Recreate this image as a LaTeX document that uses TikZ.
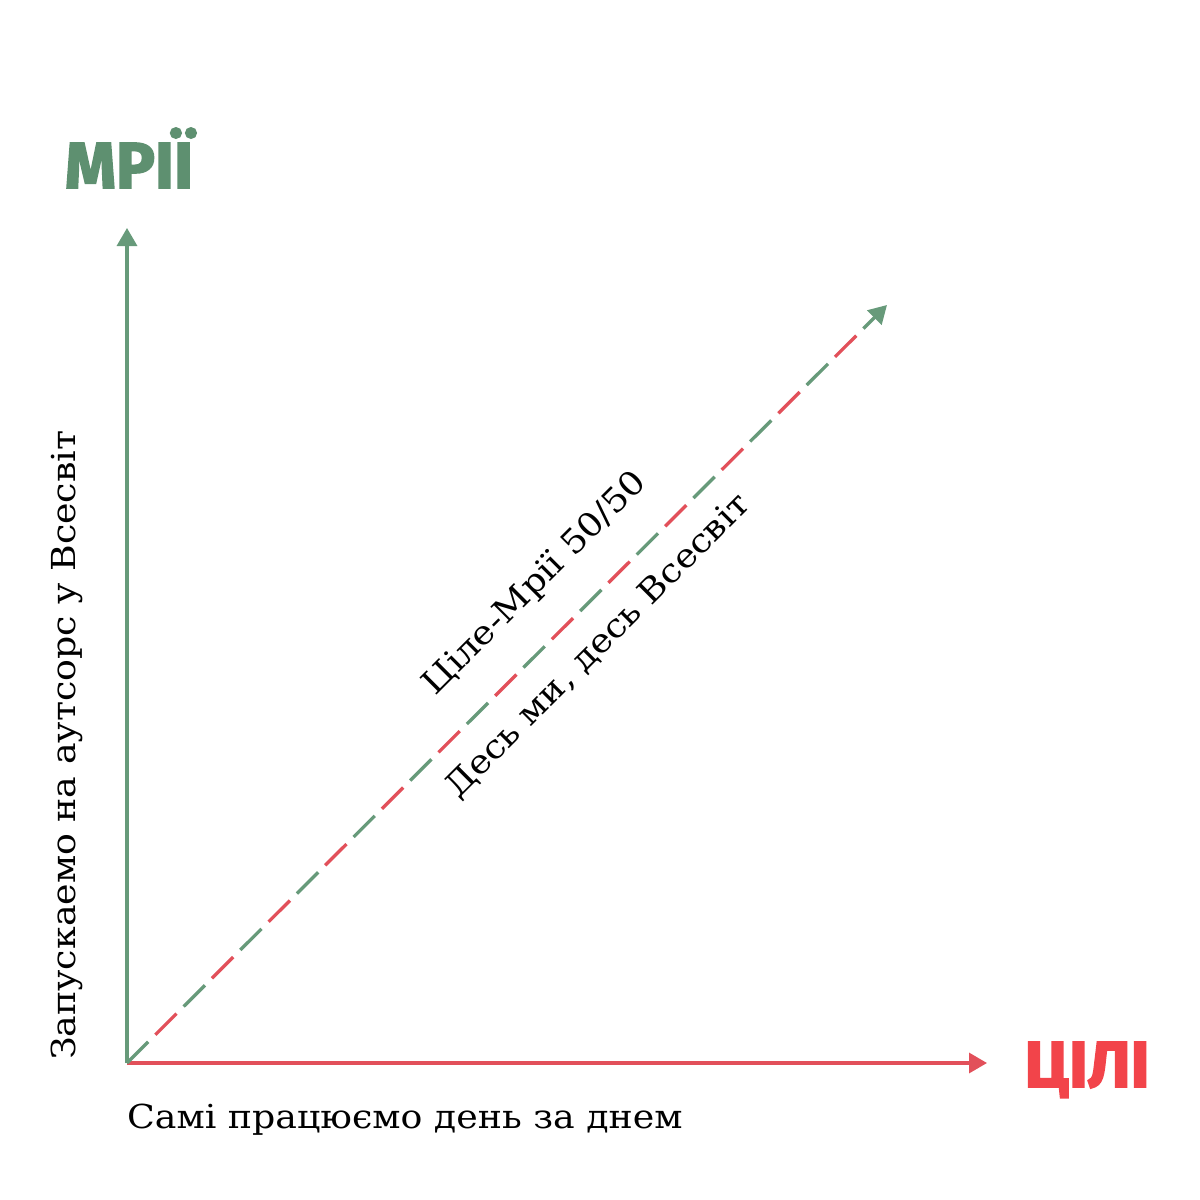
\documentclass[tikz,border=0pt]{standalone}
\usepackage{fontspec}
\setmainfont{DejaVu Serif}[FakeStretch=1.1]
\newfontfamily\heavy{Fira Sans}[BoldFeatures={FakeBold=2.5}]
\usetikzlibrary{arrows.meta,calc}
\definecolor{gtitle}{HTML}{5E9070}
\definecolor{rtitle}{HTML}{F2444A}
\definecolor{gaxis}{HTML}{679A7A}
\definecolor{raxis}{HTML}{E2505A}
\tikzset{
  axisline/.style={line width=3.3pt},
  tip/.style={-{Triangle[length=18pt,width=20pt]}},
  lbl/.style={font=\fontsize{33}{33}\selectfont, inner sep=0pt},
  title/.style={font=\heavy\bfseries\fontsize{65}{65}\selectfont, inner sep=0pt},
}
\begin{document}
\begin{tikzpicture}[x=1pt,y=-1pt]
\useasboundingbox[fill=white] (0,0) rectangle (1200,1200);
\coordinate (O) at (127,1063);
\coordinate (Ytip) at (127,228);
\coordinate (Xtip) at (987,1063);
\coordinate (Dtip) at (887,305);
\draw[axisline, gaxis, tip] (O) -- (Ytip);
\draw[axisline, raxis, tip] (O) -- (Xtip);
\draw[axisline, gaxis, dash pattern=on 30pt off 50pt, tip] (O) -- (Dtip);
\draw[axisline, raxis, dash pattern=on 30pt off 50pt, dash phase=40pt, shorten >=20pt] (O) -- (Dtip);
\node[title, text=gtitle, anchor=base] (mrii) at (129,188) {МРІЇ};
\node[title, text=rtitle, anchor=base] (tsili) at (1087,1087) {ЦІЛІ};
\node[lbl, anchor=base west] (xl) at (127,1128) {Самі працюємо день за днем};
\node[lbl, anchor=base west, rotate=90] (yl) at (75,1060) {Запускаемо на аутсорс у Всесвіт};
\coordinate (M) at (571,619);
\node[lbl, anchor=base, rotate=45] (up) at ($(M)+(-29,-29)$) {Ціле-Мрії 50/50};
\node[lbl, anchor=base, rotate=45] (dn) at ($(M)+(34,34)$) {Десь ми, десь Всесвіт};
\end{tikzpicture}
\end{document}
